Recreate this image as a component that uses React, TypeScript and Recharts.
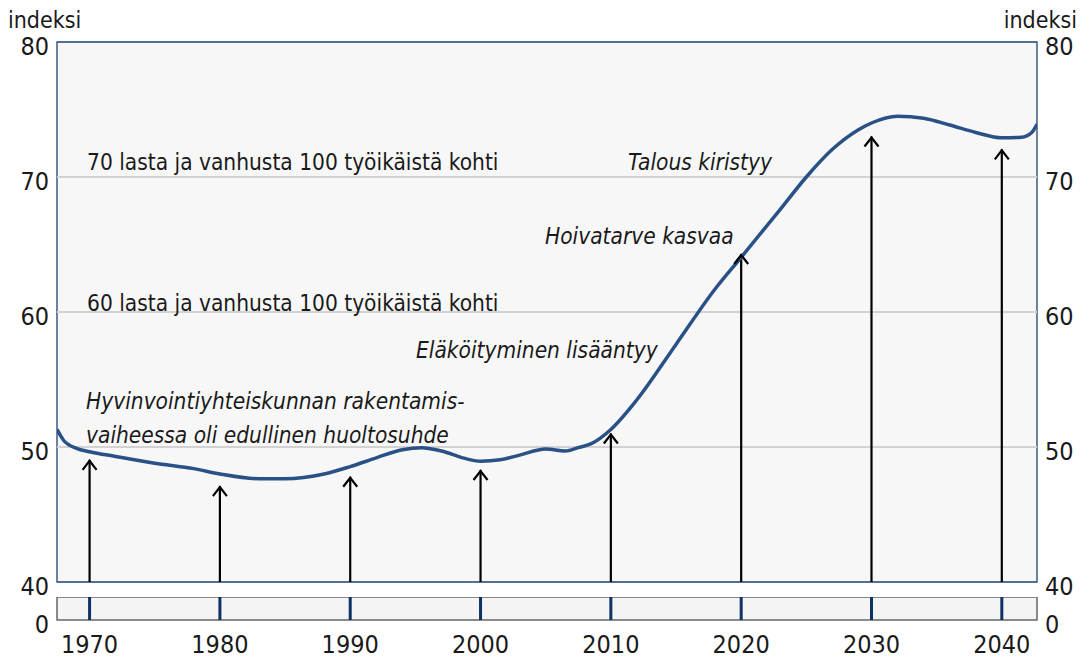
import React from 'react';
import {
    ComposedChart,
    Line,
    Scatter,
    XAxis,
    YAxis,
    ReferenceLine,
    ReferenceArea,
} from 'recharts';

// huoltosuhde (index)
const years = [
    1967.5, 1968, 1969, 1970, 1972, 1975, 1978, 1980, 1983, 1985, 1988, 1990, 1992, 1994, 1995.5,
    1997, 1999, 2000, 2001.5, 2003, 2005, 2006.5, 2007.5, 2008.5, 2010, 2012, 2015, 2018, 2020,
    2023, 2025, 2027, 2029, 2030, 2032, 2034, 2036, 2038, 2040, 2041.5, 2042.3, 2042.7,
];
const ratio = [
    51.3, 50.5, 49.9, 49.65, 49.3, 48.8, 48.4, 48.0, 47.65, 47.65, 48.0, 48.55, 49.2, 49.8, 49.95,
    49.7, 49.1, 48.95, 49.05, 49.4, 49.85, 49.7, 49.95, 50.25, 51.3, 53.5, 57.6, 61.7, 64.05,
    67.6, 70.0, 72.05, 73.5, 74.0, 74.5, 74.35, 73.85, 73.3, 72.9, 72.95, 73.3, 73.9,
];

// arrows under the curve
const arrowYears = [1970, 1980, 1990, 2000, 2010, 2020, 2030, 2040];
const arrowTips = [49.05, 47.1, 47.8, 48.3, 51.0, 64.3, 73.0, 72.05];

const yTicks = [40, 50, 60, 70, 80];
const gridValues = [50, 60, 70];
const xDomain = [1967.5, 2042.7];

const FONT = '"DejaVu Sans Condensed", "Roboto", sans-serif';
const NAVY = '#1f4170';
const LINE = '#2a5186';

const lineData = years.map((year, i) => ({ year, value: ratio[i] }));
const arrowData = arrowYears.map((year, i) => ({ year, tip: arrowTips[i] }));
const stripData = arrowYears.map((year) => ({ year, v: 0 }));

const tickStyle = { fill: '#1a1a1a', fontSize: 25, fontFamily: FONT, fontStretch: 'condensed' };
const yTickStyle = { ...tickStyle, dy: 4 };

const ArrowHead = (props: any) => {
    const { cx, cy } = props;
    if (cx == null || cy == null) return null;
    return (
        <path
            d={`M${cx - 7},${cy + 10} L${cx},${cy + 1} L${cx + 7},${cy + 10}`}
            fill="none"
            stroke="#000"
            strokeWidth={2.2}
        />
    );
};

const annotations = [
    { text: '70 lasta ja vanhusta 100 työikäistä kohti', x: 87, y: 170, italic: false },
    { text: '60 lasta ja vanhusta 100 työikäistä kohti', x: 87, y: 311, italic: false },
    { text: 'Talous kiristyy', x: 628, y: 170, italic: true },
    { text: 'Hoivatarve kasvaa', x: 545, y: 244, italic: true },
    { text: 'Eläköityminen lisääntyy', x: 416, y: 358, italic: true },
    { text: 'Hyvinvointiyhteiskunnan rakentamis-', x: 86, y: 409, italic: true },
    { text: 'vaiheessa oli edullinen huoltosuhde', x: 86, y: 443, italic: true },
];

export default function App() {
    return (
        <div
            style={{
                position: 'absolute',
                left: 0,
                top: 0,
                width: 1083,
                height: 659,
                background: '#fff',
                overflow: 'hidden',
            }}
        >
            <div style={{ position: 'absolute', left: 0, top: 0 }}>
                <ComposedChart
                    width={1083}
                    height={600}
                    data={lineData}
                    margin={{ top: 42, right: 0, left: 0, bottom: 18 }}
                >
                    <XAxis dataKey="year" type="number" domain={xDomain} hide allowDataOverflow />
                    <YAxis
                        yAxisId="l"
                        domain={[40, 80]}
                        ticks={yTicks}
                        width={57}
                        axisLine={false}
                        tickLine={false}
                        tick={yTickStyle}
                    />
                    <YAxis
                        yAxisId="r"
                        orientation="right"
                        domain={[40, 80]}
                        ticks={yTicks}
                        width={46}
                        axisLine={false}
                        tickLine={false}
                        tick={yTickStyle}
                    />
                    <ReferenceArea
                        yAxisId="l"
                        x1={xDomain[0]}
                        x2={xDomain[1]}
                        y1={40}
                        y2={80}
                        fill="#f7f7f7"
                        fillOpacity={1}
                        stroke={NAVY}
                        strokeWidth={1.3}
                    />
                    {gridValues.map((v) => (
                        <ReferenceLine key={v} yAxisId="l" y={v} stroke="#d2d2d2" strokeWidth={2} />
                    ))}
                    {arrowData.map((a) => (
                        <ReferenceLine
                            key={a.year}
                            yAxisId="l"
                            segment={[
                                { x: a.year, y: 40 },
                                { x: a.year, y: a.tip },
                            ]}
                            stroke="#000"
                            strokeWidth={2.2}
                        />
                    ))}
                    <Scatter
                        yAxisId="l"
                        data={arrowData}
                        dataKey="tip"
                        shape={ArrowHead}
                        isAnimationActive={false}
                    />
                    {/* invisible copy so the right axis gets its ticks */}
                    <Line
                        yAxisId="r"
                        dataKey="value"
                        stroke="none"
                        dot={false}
                        activeDot={false}
                        isAnimationActive={false}
                    />
                    <Line
                        yAxisId="l"
                        type="monotone"
                        dataKey="value"
                        stroke={LINE}
                        strokeWidth={3.5}
                        dot={false}
                        isAnimationActive={false}
                    />
                </ComposedChart>
            </div>

            <div style={{ position: 'absolute', left: 0, top: 597 }}>
                <ComposedChart
                    width={1083}
                    height={62}
                    data={stripData}
                    margin={{ top: 0, right: 0, left: 0, bottom: 0 }}
                >
                    <XAxis
                        dataKey="year"
                        type="number"
                        domain={xDomain}
                        ticks={arrowYears}
                        height={39}
                        axisLine={false}
                        tickLine={false}
                        tickMargin={9}
                        tick={tickStyle}
                    />
                    <YAxis
                        yAxisId="l"
                        domain={[0, 1]}
                        ticks={[0]}
                        width={57}
                        axisLine={false}
                        tickLine={false}
                        tick={yTickStyle}
                    />
                    <YAxis
                        yAxisId="r"
                        orientation="right"
                        domain={[0, 1]}
                        ticks={[0]}
                        width={46}
                        axisLine={false}
                        tickLine={false}
                        tick={yTickStyle}
                    />
                    <ReferenceArea
                        yAxisId="l"
                        x1={xDomain[0]}
                        x2={xDomain[1]}
                        y1={0}
                        y2={1}
                        fill="#f4f4f4"
                        fillOpacity={1}
                        stroke="#666"
                        strokeWidth={1.5}
                    />
                    {arrowYears.map((yr) => (
                        <ReferenceLine key={yr} yAxisId="l" x={yr} stroke="#0d3266" strokeWidth={3} />
                    ))}
                    <Line yAxisId="l" dataKey="v" stroke="none" dot={false} activeDot={false} isAnimationActive={false} />
                    <Line yAxisId="r" dataKey="v" stroke="none" dot={false} activeDot={false} isAnimationActive={false} />
                </ComposedChart>
            </div>

            <svg
                width={1083}
                height={659}
                style={{ position: 'absolute', left: 0, top: 0, pointerEvents: 'none' }}
            >
                <text x={8} y={28} fontSize={23} fontFamily={FONT} fontStretch="condensed" fill="#1a1a1a">
                    indeksi
                </text>
                <text
                    x={1077}
                    y={28}
                    fontSize={23}
                    fontFamily={FONT}
                    fontStretch="condensed"
                    fill="#1a1a1a"
                    textAnchor="end"
                >
                    indeksi
                </text>
                {annotations.map((a) => (
                    <text
                        key={a.text}
                        x={a.x}
                        y={a.y}
                        fontSize={22.5}
                        fontFamily={FONT}
                        fontStretch="condensed"
                        fontStyle={a.italic ? 'italic' : 'normal'}
                        fill="#1a1a1a"
                    >
                        {a.text}
                    </text>
                ))}
            </svg>
        </div>
    );
}
